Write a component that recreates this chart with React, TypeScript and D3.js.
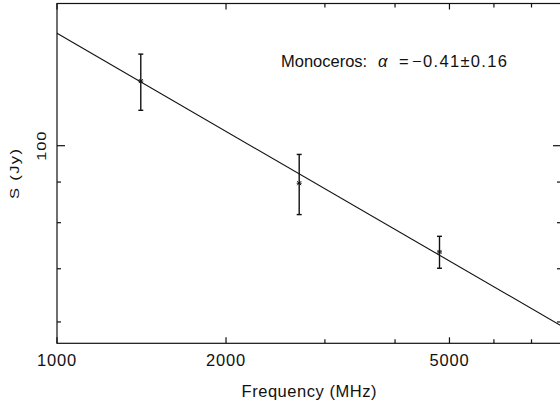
import React from "react";
import * as d3 from "d3";

const freqs = [1410, 2700, 4800];
const fluxes = [120.6, 89.7, 73.5];
const errors = [9.8, 7.8, 3.4];
const xMajorTicks = [1000, 2000, 5000];
const xMinorTicks = [3000, 4000, 6000, 7000];
const yMajorTicks = [100];
const yMinorTicks = [60, 70, 80, 90];
const fitAlpha = -0.41;
const fitS1000 = 138.5;
const annoName = "Monoceros:";
const annoSymbol = "α";
const annoEq = "=";
const annoValue = "−0.41±0.16";

const W = 560, H = 408;
const L = 57, R = 561, T = 3.5, B = 343.3;

export default function App() {
  const x = d3.scaleLog().domain([1000, 7900]).range([L, R]);
  const y = d3.scaleLog().domain([56.4, 151]).range([B, T]);
  const fit = (f: number) => fitS1000 * Math.pow(f / 1000, fitAlpha);
  const [x0, x1] = x.domain();
  const line = d3.line<number>().x((f) => x(f)).y((f) => y(fit(f)));
  const font = "'Liberation Sans', Arial, sans-serif";
  const col = "#111";
  return (
    <svg width={W} height={H} style={{ position: "absolute", left: 0, top: 0, background: "#fff" }}>
      <g fill="none" stroke={col} strokeWidth={1.2}>
        <rect x={L} y={T} width={R - L} height={B - T} />
        {xMajorTicks.map((t) => (
          <g key={"xm" + t}>
            <line x1={x(t)} x2={x(t)} y1={B} y2={B - 6} />
            <line x1={x(t)} x2={x(t)} y1={T} y2={T + 6} />
          </g>
        ))}
        {xMinorTicks.map((t) => (
          <g key={"xn" + t}>
            <line x1={x(t)} x2={x(t)} y1={B} y2={B - 4} />
            <line x1={x(t)} x2={x(t)} y1={T} y2={T + 4} />
          </g>
        ))}
        {yMajorTicks.map((t) => (
          <g key={"ym" + t}>
            <line x1={L} x2={L + 8} y1={y(t)} y2={y(t)} />
            <line x1={R} x2={R - 8} y1={y(t)} y2={y(t)} />
          </g>
        ))}
        {yMinorTicks.map((t) => (
          <g key={"yn" + t}>
            <line x1={L} x2={L + 4} y1={y(t)} y2={y(t)} />
            <line x1={R} x2={R - 4} y1={y(t)} y2={y(t)} />
          </g>
        ))}
      </g>
      <path d={line([x0, x1]) || ""} fill="none" stroke={col} strokeWidth={1.1} />
      <g stroke={col} strokeWidth={1.4} fill="none">
        {freqs.map((f, i) => {
          const cx = x(f);
          const yt = y(fluxes[i] + errors[i]);
          const yb = y(fluxes[i] - errors[i]);
          const cy = y(fluxes[i]);
          return (
            <g key={"p" + i}>
              <line x1={cx} x2={cx} y1={yt} y2={yb} />
              <line x1={cx - 2.5} x2={cx + 2.5} y1={yt} y2={yt} />
              <line x1={cx - 2.5} x2={cx + 2.5} y1={yb} y2={yb} />
              <g strokeWidth={1}>
                <line x1={cx - 2.5} x2={cx + 2.5} y1={cy} y2={cy} />
                <line x1={cx - 2} x2={cx + 2} y1={cy - 2} y2={cy + 2} />
                <line x1={cx - 2} x2={cx + 2} y1={cy + 2} y2={cy - 2} />
              </g>
            </g>
          );
        })}
      </g>
      <g fontFamily={font} fontSize={16.5} fill={col}>
        {xMajorTicks.map((t) => (
          <text key={"xl" + t} x={x(t)} y={366} textAnchor="middle" letterSpacing={0.8}>{t}</text>
        ))}
        {yMajorTicks.map((t) => (
          <text key={"yl" + t} transform={`translate(45.5,${y(t)}) rotate(-90) scale(1,0.76)`} textAnchor="middle" letterSpacing={0.8}>{t}</text>
        ))}
        <text x={(L + R) / 2} y={396.5} textAnchor="middle" textLength={135} lengthAdjust="spacing">Frequency (MHz)</text>
        <text transform={`translate(19,174) rotate(-90) scale(1,0.76)`} textAnchor="middle" textLength={50} lengthAdjust="spacing">S (Jy)</text>
        <text x={281} y={67}>{annoName}</text>
        <text x={378} y={67} fontStyle="italic">{annoSymbol}</text>
        <text x={399} y={67}>{annoEq}</text>
        <text x={412} y={67} textLength={95} lengthAdjust="spacing">{annoValue}</text>
      </g>
    </svg>
  );
}
